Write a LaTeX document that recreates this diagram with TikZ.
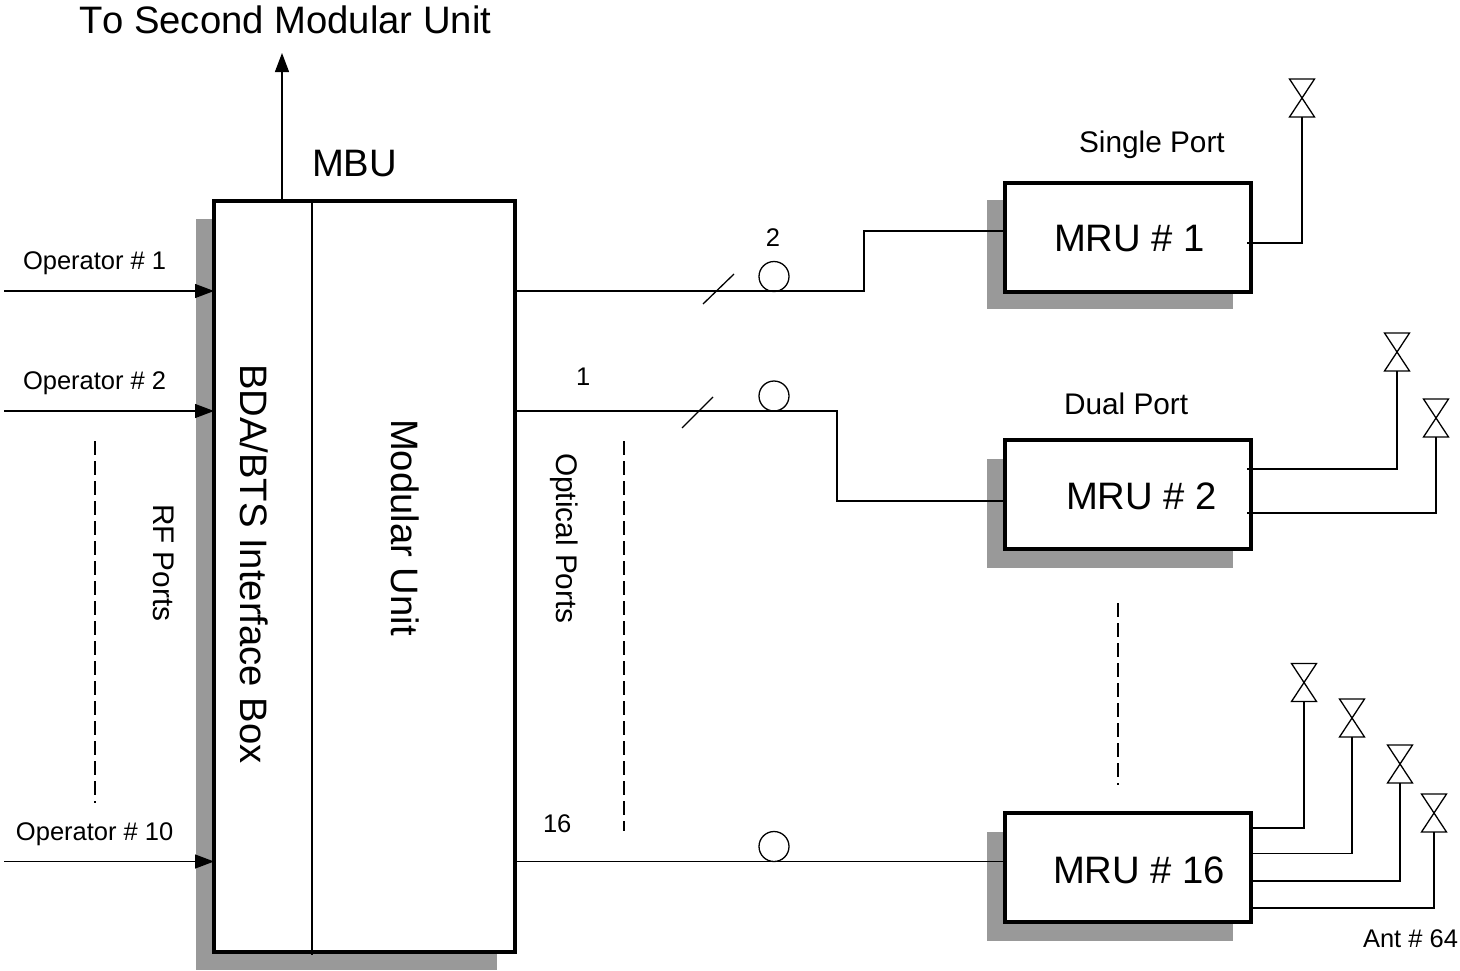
\documentclass[tikz,border=0pt]{standalone}
\usepackage{fontspec}
\setmainfont[Kerning=Off]{Liberation Sans}
\usetikzlibrary{arrows.meta}
\definecolor{shadowgray}{HTML}{999999}
\tikzset{
  thin line/.style={line width=0.65pt},
  box/.style={draw,fill=white,line width=2pt,inner sep=0pt,outer sep=0pt},
  shadowbox/.style={fill=shadowgray,inner sep=0pt,outer sep=0pt},
  mrusize/.style={minimum width=123pt,minimum height=54.5pt},
  bowtie/.style={inner sep=0pt,outer sep=0pt,minimum width=12.5pt,minimum height=19pt},
  loop/.style={draw,circle,thin line,inner sep=0pt,outer sep=0pt,minimum size=15pt},
  feed/.style={thin line,-{Triangle[length=9.5pt,width=7pt]}},
  wire/.style={thin line},
  dashline/.style={thin line,dash pattern=on 7pt off 3pt},
  big/.style={inner sep=0pt,outer sep=0pt,font=\fontsize{19.12}{22}\selectfont},
  mid/.style={inner sep=0pt,outer sep=0pt,font=\fontsize{14.9}{18}\selectfont},
  small/.style={inner sep=0pt,outer sep=0pt,font=\fontsize{12.75}{15}\selectfont}
}
\begin{document}
\begin{tikzpicture}[x=0.5pt,y=-0.5pt]
\useasboundingbox (0,0) rectangle (1460,970);
% shadows
\node[shadowbox,minimum width=150.5pt,minimum height=375.5pt] (mbushadow) at (346.5,594.5) {};
\node[shadowbox,mrusize] (s1) at (1110,254.5) {};
\node[shadowbox,mrusize] (s2) at (1110,513.5) {};
\node[shadowbox,mrusize] (s16) at (1110,886) {};
% boxes
\node[box,minimum width=150.5pt,minimum height=375.5pt] (mbu) at (364.5,576.5) {};
\node[box,mrusize] (mru1) at (1128,237) {};
\node[box,mrusize] (mru2) at (1128,494.5) {};
\node[box,mrusize] (mru16) at (1128,867.5) {};
% antennas
\node[bowtie] (a1) at (1302,98) {};
\node[bowtie] (a2) at (1397,352) {};
\node[bowtie] (a3) at (1436,418) {};
\node[bowtie] (a4) at (1304,682.5) {};
\node[bowtie] (a5) at (1352,718) {};
\node[bowtie] (a6) at (1400,764) {};
\node[bowtie] (a7) at (1434,813) {};
\foreach \a in {a1,a2,a3,a4,a5,a6,a7}
  \draw[wire] (\a.north west) -- (\a.south east) -- (\a.south west) -- (\a.north east) -- cycle;
% fibre loops
\node[loop] (c1) at (774,276.5) {};
\node[loop] (c2) at (774,396) {};
\node[loop] (c3) at (774,846.5) {};
% free ends
\coordinate (op1) at (4,291);
\coordinate (op2) at (4,411);
\coordinate (op10) at (4,861.5);
\coordinate (top) at (282,53);
\coordinate (o1) at (1247,243);
\coordinate (o2a) at (1247,469);
\coordinate (o2b) at (1247,513);
\coordinate (k1) at (864,291);
\coordinate (k1b) at (864,231);
\coordinate (k2) at (837,411);
\coordinate (k2b) at (837,501);
% inputs
\draw[feed] (op1) -- (op1 -| mbu.west);
\draw[feed] (op2) -- (op2 -| mbu.west);
\draw[feed] (op10) -- (op10 -| mbu.west);
\draw[feed] (top |- mbu.north) -- (top);
% divider
\draw[wire] (mbu.north -| 312,0) -- (312,955);
% optical links
\draw[wire] (k1 -| mbu.east) -- (k1) -- (k1b) -- (k1b -| mru1.west);
\draw[wire] (k2 -| mbu.east) -- (k2) -- (k2b) -- (k2b -| mru2.west);
\draw[wire] (op10 -| mbu.east) -- (op10 -| mru16.west);
% slashes
\coordinate (sl1a) at (703,304); \coordinate (sl1b) at (734,274);
\coordinate (sl2a) at (682,428); \coordinate (sl2b) at (713,397);
\draw[wire] (sl1a) -- (sl1b);
\draw[wire] (sl2a) -- (sl2b);
% antenna feeds
\draw[wire] (o1) -| (a1.south);
\draw[wire] (o2a) -| (a2.south);
\draw[wire] (o2b) -| (a3.south);
\draw[wire] (mru16.east |- 0,828) -| (a4.south);
\draw[wire] (mru16.east |- 0,853.5) -| (a5.south);
\draw[wire] (mru16.east |- 0,881) -| (a6.south);
\draw[wire] (mru16.east |- 0,908) -| (a7.south);
% dashed continuations
\coordinate (d1a) at (95,441); \coordinate (d1b) at (95,803);
\coordinate (d2a) at (624,441); \coordinate (d2b) at (624,831);
\coordinate (d3a) at (1118,603); \coordinate (d3b) at (1118,785);
\draw[dashline] (d1a) -- (d1b);
\draw[dashline] (d2a) -- (d2b);
\draw[dashline] (d3a) -- (d3b);
% labels
\node[big,anchor=base west] (ltop) at (79,33) {To Second Modular Unit};
\node[big,anchor=base west] (lmbu) at (312,176) {MBU};
\node[big,anchor=base west] (lm1) at (1054,251) {MRU \# 1};
\node[big,anchor=base west] (lm2) at (1066,509) {MRU \# 2};
\node[big,anchor=base west] (lm16) at (1053,883) {MRU \# 16};
\node[mid,anchor=base west] (lsp) at (1079,152) {Single Port};
\node[mid,anchor=base west] (ldp) at (1064,414) {Dual Port};
\node[small,anchor=base west] (lo1) at (23,269) {Operator \# 1};
\node[small,anchor=base west] (lo2) at (23,389) {Operator \# 2};
\node[small,anchor=base west] (lo10) at (16,840) {Operator \# 10};
\node[small,anchor=base] (ln2) at (773,246) {2};
\node[small,anchor=base west] (ln1) at (576,385) {1};
\node[small,anchor=base west] (ln16) at (543,832) {16};
\node[small,anchor=base west] (lant) at (1363,947) {Ant \# 64};
\node[big,anchor=base west,rotate=-90] (lbda) at (240,364) {BDA/BTS Interface Box};
\node[big,anchor=base west,rotate=-90] (lmod) at (391,419) {Modular Unit};
\node[mid,anchor=base west,rotate=-90] (lrf) at (153,504) {RF Ports};
\node[mid,anchor=base west,rotate=-90] (lopt) at (556,453) {Optical Ports};
\end{tikzpicture}
\end{document}
